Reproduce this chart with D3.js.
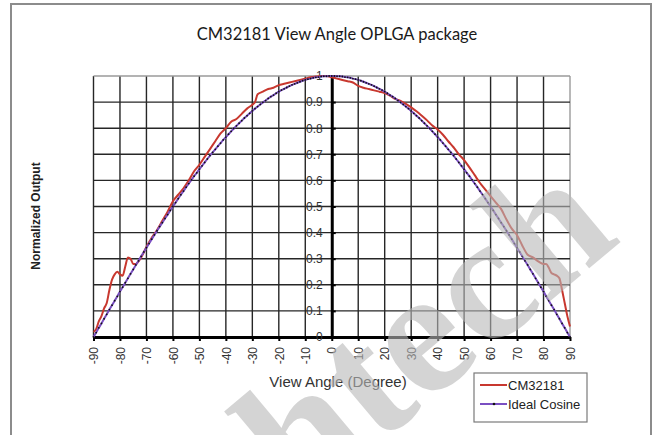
<!DOCTYPE html>
<html><head><meta charset="utf-8">
<script src="https://cdn.jsdelivr.net/npm/d3@7/dist/d3.min.js"></script>
<style>
html,body{margin:0;padding:0;background:#fff;}
svg{display:block;}
</style></head>
<body>
<svg id="chart" width="656" height="435"></svg>
<script>
// ---------- data ----------
const title = "CM32181 View Angle OPLGA package";
const xTitle = "View Angle (Degree)";
const yTitle = "Normalized Output";
const seriesNames = ["CM32181", "Ideal Cosine"];
const xTickValues = [-90,-80,-70,-60,-50,-40,-30,-20,-10,0,10,20,30,40,50,60,70,80,90];
const yTickValues = [0,0.1,0.2,0.3,0.4,0.5,0.6,0.7,0.8,0.9,1];

// Ideal cosine, one point per degree from -90 to 90
const idealAngles = d3.range(-90, 91, 1);
const idealValues = [
 0,0.017,0.035,0.052,0.070,0.087,0.105,0.122,0.139,0.156,
 0.174,0.191,0.208,0.225,0.242,0.259,0.276,0.292,0.309,0.326,
 0.342,0.358,0.375,0.391,0.407,0.423,0.438,0.454,0.469,0.485,
 0.500,0.515,0.530,0.545,0.559,0.574,0.588,0.602,0.616,0.629,
 0.643,0.656,0.669,0.682,0.695,0.707,0.719,0.731,0.743,0.755,
 0.766,0.777,0.788,0.799,0.809,0.819,0.829,0.839,0.848,0.857,
 0.866,0.875,0.883,0.891,0.899,0.906,0.914,0.921,0.927,0.934,
 0.940,0.946,0.951,0.956,0.961,0.966,0.970,0.974,0.978,0.982,
 0.985,0.988,0.990,0.993,0.995,0.996,0.998,0.999,0.999,1.000,
 1.000,
 1.000,0.999,0.999,0.998,0.996,0.995,0.993,0.990,0.988,0.985,
 0.982,0.978,0.974,0.970,0.966,0.961,0.956,0.951,0.946,0.940,
 0.934,0.927,0.921,0.914,0.906,0.899,0.891,0.883,0.875,0.866,
 0.857,0.848,0.839,0.829,0.819,0.809,0.799,0.788,0.777,0.766,
 0.755,0.743,0.731,0.719,0.707,0.695,0.682,0.669,0.656,0.643,
 0.629,0.616,0.602,0.588,0.574,0.559,0.545,0.530,0.515,0.500,
 0.485,0.469,0.454,0.438,0.423,0.407,0.391,0.375,0.358,0.342,
 0.326,0.309,0.292,0.276,0.259,0.242,0.225,0.208,0.191,0.174,
 0.156,0.139,0.122,0.105,0.087,0.070,0.052,0.035,0.017,0
];

// Measured CM32181 response
const measAngles = [-90,-89,-88,-87,-86,-85,-84,-83,-82,-81,-80,-79,-78,-77,-76,-75,-74,-73,-72,
 -70,-68,-66,-64,-62,-60,-58,-56,-54,-52,-50,-48,-46,-44,-42,-40,-38,-36,-34,-32,-30,-29,-28,
 -26,-24,-22,-20,-18,-16,-14,-12,-10,-8,-6,-4,-2,0,2,4,6,8,10,12,14,16,18,20,22,24,26,28,30,
 32,34,36,38,40,42,44,46,48,50,52,54,56,58,60,62,64,66,68,70,72,74,76,78,80,81,82,83,84,85,86,87,88,89,90];
const measValues = [0.02,0.03,0.06,0.08,0.11,0.13,0.18,0.22,0.24,0.25,0.24,0.235,0.27,0.305,0.30,0.28,0.28,0.29,0.305,
 0.345,0.38,0.41,0.445,0.48,0.52,0.545,0.57,0.60,0.635,0.66,0.69,0.72,0.75,0.78,0.80,0.825,0.835,0.855,0.875,0.89,0.90,0.93,
 0.94,0.95,0.955,0.965,0.97,0.975,0.98,0.985,0.99,0.995,0.998,1.0,1.0,0.995,0.99,0.985,0.98,0.975,0.962,0.955,0.95,0.945,0.94,0.935,0.925,0.912,0.905,0.893,0.88,
 0.865,0.848,0.83,0.81,0.795,0.775,0.75,0.727,0.70,0.678,0.65,0.62,0.59,0.565,0.54,0.515,0.49,0.45,0.415,0.39,0.35,0.315,0.305,0.29,0.28,0.28,0.265,0.245,0.24,0.235,0.225,0.18,0.13,0.08,0.04];

// ---------- drawing ----------
const svg = d3.select("#chart");
const plot = {left: 93.5, right: 570, top: 76, bottom: 337};

const x = d3.scaleLinear().domain([-90, 90]).range([plot.left, plot.right]);
const y = d3.scaleLinear().domain([0, 1]).range([plot.bottom, plot.top]);

// outer frame
svg.append("rect").attr("x", 11).attr("y", 4).attr("width", 640).attr("height", 440)
  .attr("fill", "#fff").attr("stroke", "#8c8c8c").attr("stroke-width", 2);

// title
svg.append("text").attr("x", 337).attr("y", 40).attr("text-anchor", "middle")
  .attr("font-family", "Lato, 'Open Sans', sans-serif").attr("font-size", 16.5)
  .attr("fill", "#1a1a1a").text(title);

// grid
const grid = svg.append("g");
grid.selectAll("line.v").data(xTickValues).join("line")
  .attr("x1", d => x(d)).attr("x2", d => x(d)).attr("y1", plot.top).attr("y2", plot.bottom)
  .attr("stroke", d => d === 90 ? "#9a9a9a" : "#262626").attr("stroke-width", 1.4);
grid.selectAll("line.h").data(yTickValues).join("line")
  .attr("x1", plot.left).attr("x2", plot.right).attr("y1", d => y(d)).attr("y2", d => y(d))
  .attr("stroke", d => d === 1 ? "#9a9a9a" : "#262626").attr("stroke-width", 1.4);

// x axis (at y=0)
const xAxis = svg.append("g").attr("transform", `translate(0,${y(0)})`)
  .call(d3.axisBottom(x).tickValues(xTickValues).tickSize(4).tickSizeOuter(0).tickFormat(d => String(d)));
xAxis.select(".domain").attr("stroke", "#000").attr("stroke-width", 3);
xAxis.selectAll(".tick line").attr("stroke", "#000").attr("stroke-width", 2);
xAxis.selectAll(".tick text")
  .attr("transform", "rotate(-90)").attr("text-anchor", "end")
  .attr("x", -10).attr("y", 0).attr("dy", "0.35em")
  .attr("font-family", "'Liberation Sans', Arial, sans-serif").attr("font-size", 12).attr("fill", "#333");

// y axis (at x=0)
const yAxis = svg.append("g").attr("transform", `translate(${x(0)},0)`)
  .call(d3.axisLeft(y).tickValues(yTickValues).tickSize(-4).tickSizeOuter(0).tickPadding(9).tickFormat(d => String(d)));
yAxis.select(".domain").attr("stroke", "#000").attr("stroke-width", 3);
yAxis.selectAll(".tick line").attr("stroke", "#000").attr("stroke-width", 2);
yAxis.selectAll(".tick text")
  .attr("font-family", "'Liberation Sans', Arial, sans-serif").attr("font-size", 12).attr("fill", "#333");

// lines
const idealData = idealAngles.map((a, i) => [a, idealValues[i]]);
const measData = measAngles.map((a, i) => [a, measValues[i]]);

svg.append("path").datum(measData)
  .attr("d", d3.line().x(d => x(d[0])).y(d => y(d[1])).curve(d3.curveMonotoneX))
  .attr("fill", "none").attr("stroke", "#c8382f").attr("stroke-width", 2);

svg.append("path").datum(idealData).attr("d", d3.line().x(d => x(d[0])).y(d => y(d[1])))
  .attr("fill", "none").attr("stroke", "#7a4fc2").attr("stroke-width", 2);
svg.append("g").selectAll("circle").data(idealData).join("circle")
  .attr("cx", d => x(d[0])).attr("cy", d => y(d[1])).attr("r", 0.9).attr("fill", "#111");

// axis titles
svg.append("text").attr("x", 338).attr("y", 387).attr("text-anchor", "middle")
  .attr("font-family", "'Liberation Sans', Arial, sans-serif").attr("font-size", 15)
  .attr("fill", "#333").text(xTitle);
svg.append("text").attr("transform", "translate(40,216) rotate(-90)").attr("text-anchor", "middle")
  .attr("font-family", "'Liberation Sans Narrow', 'Liberation Sans', Arial, sans-serif")
  .attr("font-weight", "bold").attr("font-size", 12)
  .attr("fill", "#222").text(yTitle);

// watermark (drawn beneath the legend)
svg.append("text").attr("transform", "translate(301,510) rotate(-40)")
  .attr("font-family", "'Liberation Serif', serif").attr("font-weight", "bold")
  .attr("font-size", 180).attr("fill", "#b8b8b8").attr("opacity", 0.6)
  .text("htech");

// legend
const lg = svg.append("g");
lg.append("rect").attr("x", 474).attr("y", 373).attr("width", 113).attr("height", 49)
  .attr("fill", "#fff").attr("stroke", "#7a7a7a").attr("stroke-width", 1.2);
const legColors = ["#c8382f", "#7a4fc2"];
seriesNames.forEach((n, i) => {
  const yy = 385 + i * 19;
  lg.append("line").attr("x1", 480).attr("x2", 507).attr("y1", yy).attr("y2", yy)
    .attr("stroke", legColors[i]).attr("stroke-width", 2);
  if (i === 1) lg.append("circle").attr("cx", 494).attr("cy", yy).attr("r", 1.3).attr("fill", "#111");
  lg.append("text").attr("x", 508).attr("y", yy).attr("dy", "0.36em")
    .attr("font-family", "'Liberation Sans', Arial, sans-serif").attr("font-size", 13)
    .attr("fill", "#222").text(n);
});
</script>
</body></html>
